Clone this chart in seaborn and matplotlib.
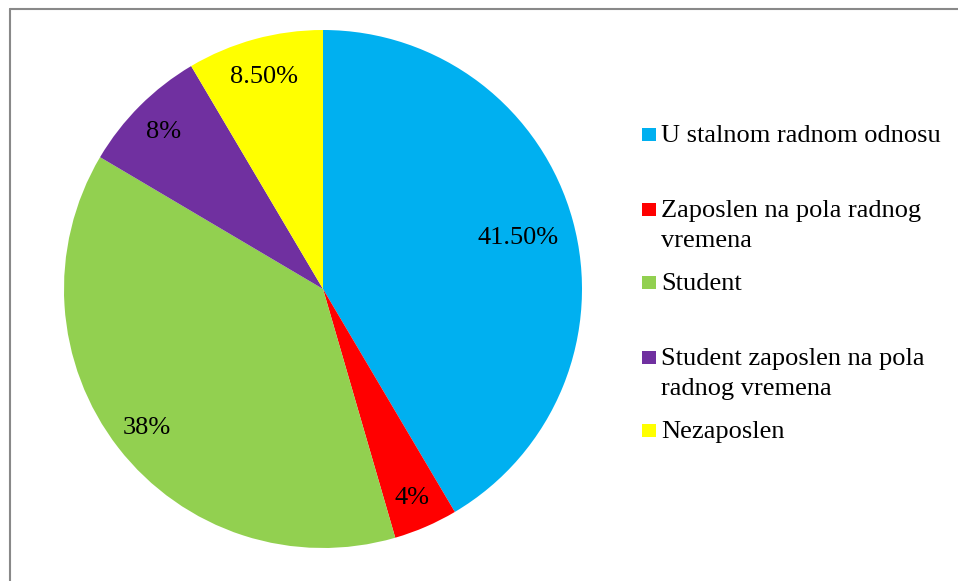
import matplotlib
matplotlib.use("Agg")
import matplotlib.pyplot as plt
import seaborn as sns
import numpy as np
from matplotlib.patches import Rectangle
from matplotlib.lines import Line2D

# data
categories = ['U stalnom radnom odnosu', 'Zaposlen na pola radnog\nvremena', 'Student',
              'Student zaposlen na pola\nradnog vremena', 'Nezaposlen']
values = [41.5, 4, 38, 8, 8.5]
pct_labels = ['41.50%', '4%', '38%', '8%', '8.50%']
colors = ['#00B0F0', '#FF0000', '#92D050', '#7030A0', '#FFFF00']

sns.set_theme(style='white')
plt.rcParams['font.family'] = ['Liberation Serif', 'DejaVu Serif']

W, H = 958, 581
fig = plt.figure(figsize=(W / 100, H / 100), dpi=100)

# pie centred at (323, 289) px, radius ~259 px
cx, cy, r = 323, 289, 259
ax = fig.add_axes([(cx - r) / W, (H - cy - r) / H, 2 * r / W, 2 * r / H])
wedges, texts = ax.pie(values, colors=colors, startangle=90, counterclock=False,
                       wedgeprops=dict(linewidth=0), radius=1)
ax.set_xlim(-1, 1)
ax.set_ylim(-1, 1)
ax.set_aspect('equal')
ax.axis('off')

# percent labels at wedge mid angles
dists = [0.78, 0.87, 0.86, 0.87, 0.86]
for w, lab, d in zip(wedges, pct_labels, dists):
    mid = np.deg2rad((w.theta1 + w.theta2) / 2)
    ax.text(d * np.cos(mid), d * np.sin(mid), lab, ha='center', va='center_baseline',
            fontsize=19, color='black')

# legend drawn by hand so the marker sits on the first line
baselines = [142, 217, 290, 365, 438]
for name, col, y in zip(categories, colors, baselines):
    fig.patches.append(Rectangle((642 / W, 1 - (y - 1) / H), 14 / W, 13 / H,
                                 transform=fig.transFigure, facecolor=col,
                                 edgecolor='none'))
    for i, line in enumerate(name.split('\n')):
        fig.text(661 / W, 1 - (y + 30 * i) / H, line, ha='left', va='baseline',
                 fontsize=19, color='black')

# grey frame (only top and left visible, image is cropped)
fig.lines.append(Line2D([9.5 / W, 9.5 / W], [0, 1 - 8.5 / H], transform=fig.transFigure,
                        color='#898989', linewidth=1.5))
fig.lines.append(Line2D([9.5 / W, 1], [1 - 8.5 / H, 1 - 8.5 / H], transform=fig.transFigure,
                        color='#898989', linewidth=1.5))

fig.savefig('out.png', dpi=100, facecolor='white')
